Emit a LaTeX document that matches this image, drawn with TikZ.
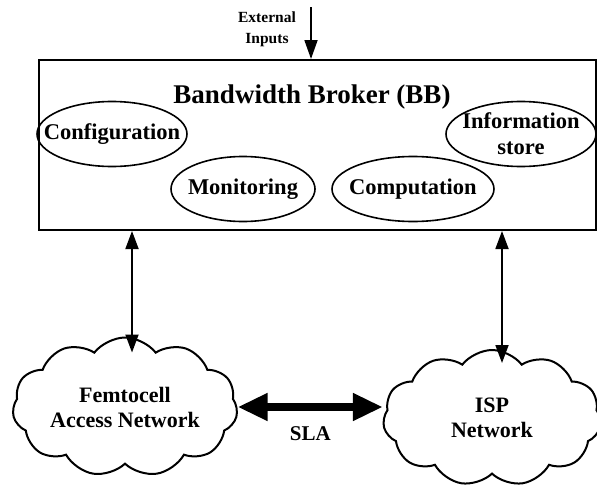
\documentclass[tikz,border=0pt]{standalone}
\usepackage{fontspec}
\setmainfont{Liberation Serif}
\usetikzlibrary{arrows.meta,shapes.geometric,shapes.symbols}

\begin{document}
\begin{tikzpicture}[x=1pt, y=-1pt,
    blob/.style={ellipse, draw, line width=1.6pt, inner sep=-20pt, align=center,
      minimum height=65pt, font=\bfseries\fontsize{22.5}{26}\selectfont},
    net/.style={cloud, cloud puffs=11, cloud puff arc=105, cloud ignores aspect,
      draw, line width=2pt, inner sep=0pt, align=center,
      font=\bfseries\fontsize{22}{25}\selectfont},
    link/.style={line width=1.8pt, {Triangle[length=18pt,width=13pt]}-{Triangle[length=18pt,width=13pt]}},
    feed/.style={line width=1.8pt, -{Triangle[length=19pt,width=13pt]}},
    sla/.style={line width=8pt, {Triangle[length=30pt,width=26pt]}-{Triangle[length=30pt,width=26pt]}}]
  \useasboundingbox (0,0) rectangle (597,485);
  \clip (0,0) rectangle (597,485);

  % broker box
  \node[draw, line width=2pt, inner sep=0pt, minimum width=557pt, minimum height=170pt] (bb) at (317.5,145) {};
  \node[font=\bfseries\fontsize{27}{30}\selectfont] (title) at (312,97) {Bandwidth Broker (BB)};

  % functions inside the broker
  \foreach \n/\x/\y/\w/\t in {conf/112/134/150pt/Configuration, info/521/134/150pt/{Information\\store},
      mon/243/189/144pt/Monitoring, comp/413/189/162pt/Computation} {
    \node[blob, minimum width=\w] (\n) at (\x,\y) {\t};
  }

  % external inputs
  \node[align=center, font=\bfseries\fontsize{15.5}{21}\selectfont] (ext) at (267,29) {External\\Inputs};
  \coordinate (extin) at (311,7);
  \draw[feed] (extin) -- (extin |- bb.north);

  % networks
  \node[net, minimum width=225pt, minimum height=139pt] (fem) at (125,407) {Femtocell\\Access Network};
  \node[net, minimum width=218pt, minimum height=136pt] (isp) at (492,418) {ISP\\Network};

  % links
  \draw[link] ([xshift=7pt]fem.north |- bb.south) -- ([xshift=7pt,yshift=-16pt]fem.north);
  \draw[link] ([xshift=10pt]isp.north |- bb.south) -- ([xshift=10pt,yshift=-14pt]isp.north);
  \draw[sla] (fem.east) -- (fem.east -| isp.west) node[midway, below=12pt, font=\bfseries\fontsize{21}{24}\selectfont] (slalab) {SLA};
\end{tikzpicture}
\end{document}
